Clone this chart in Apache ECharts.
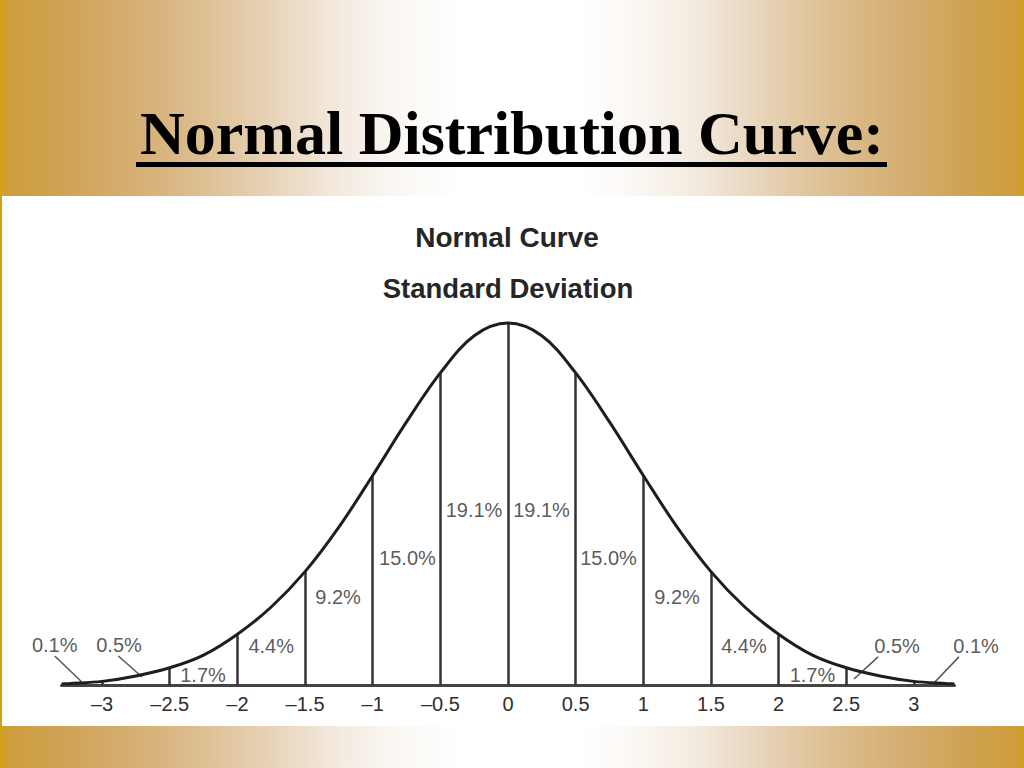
<!DOCTYPE html>
<html><head><meta charset="utf-8">
<script src="https://cdn.jsdelivr.net/npm/echarts@6/dist/echarts.min.js"></script>
<style>html,body{margin:0;padding:0;background:#fff}#c{width:1024px;height:768px}</style>
</head><body><div id="c"></div>
<script>
// ---- data ----
const curveX = [-3.3,-3.25,-3,-2.75,-2.5,-2.25,-2,-1.75,-1.5,-1.25,-1,-0.75,-0.5,-0.25,0,0.25,0.5,0.75,1,1.25,1.5,1.75,2,2.25,2.5,2.75,3,3.25,3.3];
const curveY = [0.001,0.0015,0.004,0.010,0.019,0.033,0.056,0.086,0.125,0.174,0.231,0.290,0.344,0.385,0.399,0.385,0.344,0.290,0.231,0.174,0.125,0.086,0.056,0.033,0.019,0.010,0.004,0.0015,0.001];
const dividerX = [-3,-2.5,-2,-1.5,-1,-0.5,0,0.5,1,1.5,2,2.5,3];
const tickValues = [-3,-2.5,-2,-1.5,-1,-0.5,0,0.5,1,1.5,2,2.5,3];
const segLabels = ['0.1%','0.5%','1.7%','4.4%','9.2%','15.0%','19.1%','19.1%','15.0%','9.2%','4.4%','1.7%','0.5%','0.1%'];
// ---- annotation layout (data coordinates) ----
const labelX = [-3.35,-2.875,-2.254,-1.75,-1.256,-0.743,-0.251,0.248,0.743,1.249,1.744,2.25,2.875,3.459];
const labelY = [0.044,0.044,0.011,0.043,0.097,0.140,0.193,0.193,0.140,0.097,0.043,0.011,0.043,0.043];
const leaderFrom = [[-3.35,0.032],[-2.88,0.032],[2.735,0.031],[3.333,0.031]];
const leaderTo = [[-3.15,0.0033],[-2.705,0.0088],[2.557,0.0066],[3.141,0.001]];

const gold = {type:'linear',x:0,y:0,x2:1,y2:0,colorStops:[
  {offset:0,color:'#D4A010'},{offset:0.006,color:'#CE9E3C'},{offset:0.05,color:'#CFA14F'},
  {offset:0.12,color:'#D4AC6E'},{offset:0.2,color:'#DDBF92'},{offset:0.27,color:'#E8D5BC'},
  {offset:0.33,color:'#F3EADF'},{offset:0.39,color:'#FBF8F4'},{offset:0.45,color:'#FFFFFF'},
  {offset:0.57,color:'#FFFFFF'},{offset:0.62,color:'#FBF8F4'},{offset:0.68,color:'#F3EADF'},
  {offset:0.74,color:'#E8D5BC'},{offset:0.81,color:'#DDBF92'},{offset:0.89,color:'#D4AC6E'},
  {offset:0.95,color:'#CFA14F'},{offset:0.994,color:'#CE9E3C'},{offset:1,color:'#D4A010'}]};

const chart = echarts.init(document.getElementById('c'), null, {renderer:'svg', width:1024, height:768});
const yAt = x => curveY[curveX.indexOf(x)];
const sans = "'Liberation Sans', Arial, Helvetica, sans-serif";

chart.setOption({
  animation:false,
  backgroundColor:'#ffffff',
  graphic:[
    {type:'rect', z:-10, shape:{x:0,y:0,width:1024,height:196}, style:{fill:gold}},
    {type:'rect', z:-10, shape:{x:0,y:726,width:1024,height:42}, style:{fill:gold}},
    {type:'rect', z:-10, shape:{x:0,y:196,width:2,height:530}, style:{fill:'#D4A010'}},
    {type:'text', z:10, style:{text:'Normal Distribution Curve:', x:512, y:133, textAlign:'center', textVerticalAlign:'middle',
      font:"bold 62px 'Liberation Serif', 'Times New Roman', serif", fill:'#000'}},
    {type:'rect', z:10, shape:{x:136,y:162,width:751,height:5}, style:{fill:'#000'}},
    {type:'text', z:10, style:{text:'Normal Curve', x:507, y:237, textAlign:'center', textVerticalAlign:'middle',
      font:"bold 28px "+sans, fill:'#262626'}},
    {type:'text', z:10, style:{text:'Standard Deviation', x:508, y:288, textAlign:'center', textVerticalAlign:'middle',
      font:"bold 27.5px "+sans, fill:'#262626'}}
  ],
  grid:{left:61.5, right:69.5, top:304, bottom:83},
  xAxis:{type:'value', min:-3.3, max:3.3,
    axisLine:{lineStyle:{color:'#444', width:3}},
    axisTick:{show:false}, splitLine:{show:false},
    axisLabel:{customValues:tickValues, margin:9, fontSize:20, color:'#2e2e2e', fontFamily:sans,
      formatter:v => v < 0 ? '\u2013' + Math.abs(v) : String(v)}},
  yAxis:{type:'value', min:0, max:0.42, show:false},
  series:[
    {type:'lines', coordinateSystem:'cartesian2d', clip:false, silent:true, z:2,
      lineStyle:{color:'#333', width:2.5, opacity:1},
      data: dividerX.map(x => ({coords:[[x,0],[x,yAt(x)]]}))},
    {type:'lines', coordinateSystem:'cartesian2d', clip:false, silent:true, z:2,
      lineStyle:{color:'#555', width:1.5, opacity:1},
      data: leaderFrom.map((p,i) => ({coords:[p, leaderTo[i]]}))},
    {type:'line', data: curveX.map((x,i) => [x, curveY[i]]), smooth:0.35, symbol:'none', clip:false, z:3,
      lineStyle:{color:'#1e1e1e', width:3}},
    {type:'scatter', clip:false, symbolSize:1, itemStyle:{color:'rgba(0,0,0,0)'}, silent:true, z:4,
      data: segLabels.map((t,i) => [labelX[i], labelY[i], t]),
      label:{show:true, position:'inside', formatter:p => p.value[2], fontSize:20, color:'#2e2e2e', fontFamily:sans}}
  ]
});
</script></body></html>
